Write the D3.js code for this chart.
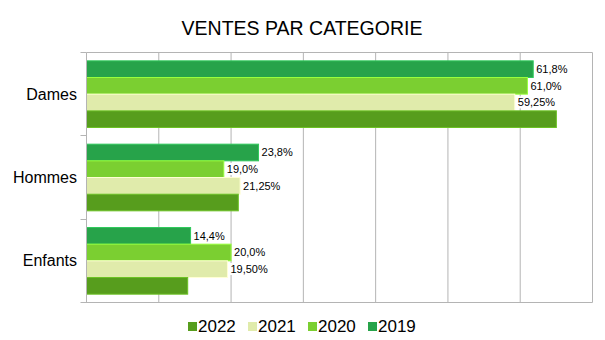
<!DOCTYPE html>
<html>
<head>
<meta charset="utf-8">
<script src="https://cdn.jsdelivr.net/npm/d3@7"></script>
<style>
  body { margin: 0; background: #fff; }
  svg { display: block; font-family: "Liberation Sans", Arial, sans-serif; }
</style>
</head>
<body>
<div id="chart"></div>
<script>
var categories = ["Dames", "Hommes", "Enfants"];
var years = ["2019", "2020", "2021", "2022"];          // top to bottom inside a group
var legendYears = ["2022", "2021", "2020", "2019"];
var colors = { "2019": "#27a34a", "2020": "#7bcf31", "2021": "#e0ebab", "2022": "#579d1d" };

var values2019 = [61.8, 23.8, 14.4];
var values2020 = [61.0, 19.0, 20.0];
var values2021 = [59.25, 21.25, 19.5];
var values2022 = [65.0, 21.0, 14.0];

var labels2019 = ["61,8%", "23,8%", "14,4%"];
var labels2020 = ["61,0%", "19,0%", "20,0%"];
var labels2021 = ["59,25%", "21,25%", "19,50%"];
var labels2022 = [null, null, null];

var xTicks = [0, 10, 20, 30, 40, 50, 60, 70];

var series = {
    "2019": { values: values2019, labels: labels2019 },
    "2020": { values: values2020, labels: labels2020 },
    "2021": { values: values2021, labels: labels2021 },
    "2022": { values: values2022, labels: labels2022 }
};

var width = 605, height = 340;
// plot frame (half-pixel offsets keep the 1px lines crisp)
var plotLeft = 86.5, plotRight = 592.5, plotTop = 52.5, plotBottom = 302.5;
var gridColor = "#b4b4b4";

var svg = d3.select("#chart").append("svg")
    .attr("width", width)
    .attr("height", height);

var x = d3.scaleLinear().domain([0, 70]).range([plotLeft, plotRight]);
var y0 = d3.scaleBand().domain(categories).range([plotTop, plotBottom])
    .paddingInner(0.2).paddingOuter(0.1);
var y1 = d3.scaleBand().domain(years).range([0, y0.bandwidth()]);

// title
svg.append("text")
    .attr("x", 302)
    .attr("y", 35)
    .attr("text-anchor", "middle")
    .attr("font-size", 19.5)
    .attr("fill", "#000")
    .text("VENTES PAR CATEGORIE");

// vertical gridlines + top border
svg.append("g").selectAll("line")
    .data(xTicks.slice(1))
    .enter().append("line")
    .attr("x1", function(d) { return x(d); })
    .attr("x2", function(d) { return x(d); })
    .attr("y1", plotTop).attr("y2", plotBottom)
    .attr("stroke", gridColor);

svg.append("line")
    .attr("x1", plotLeft).attr("x2", plotRight)
    .attr("y1", plotTop).attr("y2", plotTop)
    .attr("stroke", gridColor);

// bars
var groups = svg.append("g").selectAll("g.cat")
    .data(categories)
    .enter().append("g")
    .attr("class", "cat")
    .attr("transform", function(d) { return "translate(0," + y0(d) + ")"; });

groups.each(function(cat, ci) {
    var g = d3.select(this);
    years.forEach(function(yr) {
        var v = series[yr].values[ci];
        g.append("rect")
            .attr("x", x(0))
            .attr("y", y1(yr))
            .attr("width", x(v) - x(0))
            .attr("height", y1.bandwidth())
            .attr("fill", colors[yr])
            .attr("stroke", d3.color(colors[yr]).brighter(0.6))
            .attr("stroke-width", 1);
    });
});

// value labels with white boxes
groups.each(function(cat, ci) {
    var g = d3.select(this);
    years.forEach(function(yr) {
        var lbl = series[yr].labels[ci];
        if (!lbl) return;
        var v = series[yr].values[ci];
        var lg = g.append("g");
        var t = lg.append("text")
            .attr("x", x(v) + 3)
            .attr("y", y1(yr) + y1.bandwidth() / 2)
            .attr("dy", "0.35em")
            .attr("font-size", 11)
            .attr("fill", "#000")
            .text(lbl);
        var bb = t.node().getBBox();
        lg.insert("rect", "text")
            .attr("x", bb.x - 2)
            .attr("y", bb.y)
            .attr("width", bb.width + 3)
            .attr("height", bb.height)
            .attr("fill", "#fff");
    });
});

// left axis and bottom line
svg.append("line")
    .attr("x1", plotLeft).attr("x2", plotLeft)
    .attr("y1", plotTop).attr("y2", plotBottom)
    .attr("stroke", gridColor);
svg.append("line")
    .attr("x1", plotLeft - 6).attr("x2", plotRight)
    .attr("y1", plotBottom).attr("y2", plotBottom)
    .attr("stroke", gridColor);

// category boundary ticks
var bounds = [plotTop].concat(categories.map(function(c) { return y0(c) - y0.step() * 0.1; }).slice(1));
svg.append("g").selectAll("line")
    .data(bounds)
    .enter().append("line")
    .attr("x1", plotLeft - 6).attr("x2", plotLeft)
    .attr("y1", function(d) { return Math.round(d - 0.5) + 0.5; })
    .attr("y2", function(d) { return Math.round(d - 0.5) + 0.5; })
    .attr("stroke", gridColor);

svg.append("g").selectAll("text")
    .data(categories)
    .enter().append("text")
    .attr("x", 77)
    .attr("y", function(d) { return y0(d) + y0.bandwidth() / 2; })
    .attr("dy", "0.35em")
    .attr("text-anchor", "end")
    .attr("font-size", 16)
    .attr("fill", "#000")
    .text(function(d) { return d; });

// legend
var legend = svg.append("g").selectAll("g")
    .data(legendYears)
    .enter().append("g")
    .attr("transform", function(d, i) { return "translate(" + (188 + i * 60) + ",322)"; });

legend.append("rect")
    .attr("width", 9).attr("height", 9)
    .attr("fill", function(d) { return colors[d]; });

legend.append("text")
    .attr("x", 10)
    .attr("y", 4.5)
    .attr("dy", "0.35em")
    .attr("font-size", 17)
    .attr("fill", "#000")
    .text(function(d) { return d; });
</script>
</body>
</html>
